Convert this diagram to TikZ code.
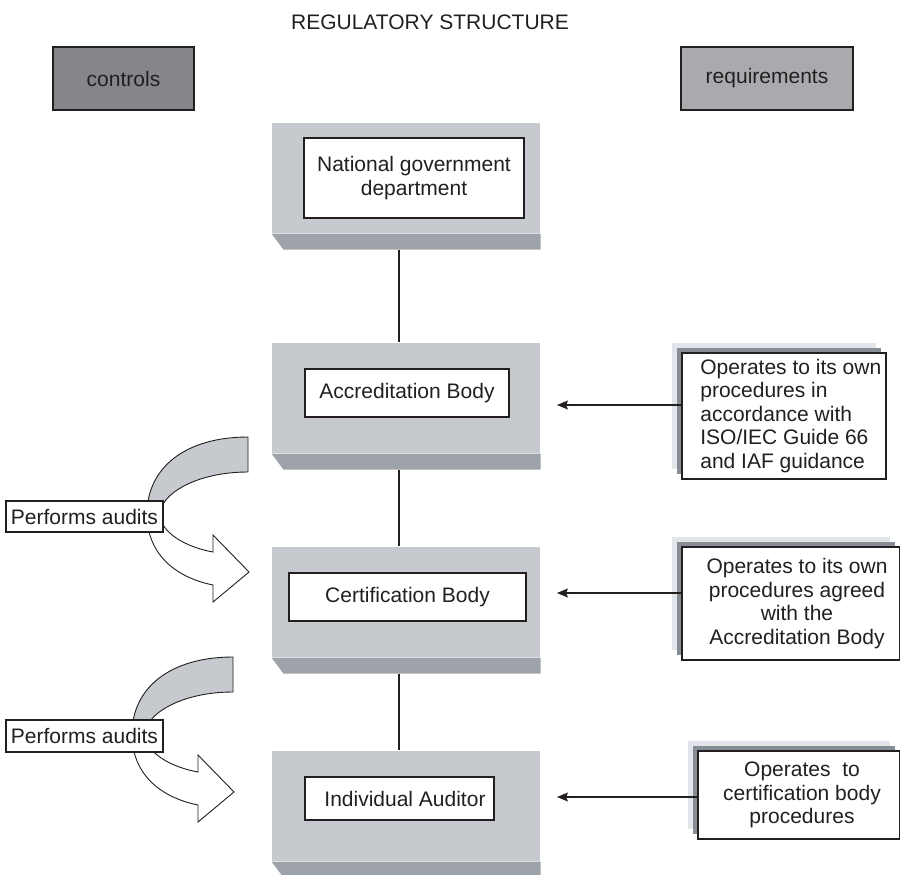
\documentclass[tikz,border=0pt]{standalone}
\usepackage{fontspec}
\setmainfont{Liberation Sans}
\usetikzlibrary{arrows.meta,shadows,calc}

\definecolor{facegray}{HTML}{C6C9CE}
\definecolor{bandgray}{HTML}{9EA3A9}
\definecolor{ctrlgray}{HTML}{858689}
\definecolor{reqgray}{HTML}{A9AAAE}
\definecolor{shlight}{HTML}{E1E4E8}
\definecolor{shdark}{HTML}{878D94}
\definecolor{ink}{HTML}{231F20}

\begin{document}
\begin{tikzpicture}[x=1pt,y=-1pt,
  font=\fontsize{21}{23.5}\selectfont, text=ink,
  line width=1.1pt,
  face/.style={fill=facegray, draw=none, inner sep=0pt, minimum width=268pt, minimum height=110pt},
  innerbox/.style={draw=ink, fill=white, inner sep=0pt, align=center},
  header/.style={draw=ink, inner sep=0pt, minimum height=63pt},
  reqbox/.style={draw=ink, fill=white, inner sep=0pt,
    copy shadow={shadow xshift=-10pt, shadow yshift=10pt, fill=shlight, draw=none},
    copy shadow={shadow xshift=-5pt, shadow yshift=5pt, fill=shdark, draw=none}},
  auditbox/.style={draw=ink, fill=white, inner sep=0pt, minimum width=157pt},
  conn/.style={draw=ink, line width=1.1pt},
  feed/.style={conn, -{Stealth[length=11pt, width=9pt, inset=2pt]}},
  tailshape/.style={fill=facegray, draw=ink, line width=0.9pt},
  headshape/.style={fill=white, draw=ink, line width=0.9pt}
]
\useasboundingbox (0,0) rectangle (900,875);

% title and column headers
\node (title) at (430,22) {REGULATORY STRUCTURE};
\node (controls) [header, fill=ctrlgray, minimum width=141pt] at (123.5,78.5) {controls};
\node (requirements) [header, fill=reqgray, minimum width=172pt] at (767,78.5) {requirements};

% bevelled blocks of the hierarchy
\node (b1) [face] at (406,178) {};
\node (b2) [face] at (406,398) {};
\node (b3) [face] at (406,602) {};
\node (b4) [face] at (406,806) {};
\foreach \b in {b1,b2,b3,b4} {
  \fill[bandgray] (\b.south west) -- (\b.south east) -- ([yshift=-16pt]\b.south east)
    -- ([xshift=12pt,yshift=-16pt]\b.south west) -- cycle;
  \coordinate (\b foot) at ([yshift=-16pt]\b.south);
}

% labels on the blocks
\node (ngd) [innerbox, minimum width=220pt, minimum height=80pt] at (414,178)
  {National government\\department};
\node (ab) [innerbox, minimum width=204pt, minimum height=48pt] at (407,393) {Accreditation Body};
\node (cb) [innerbox, minimum width=237pt, minimum height=48pt] at (407.5,597) {Certification Body};
\node (ia) [innerbox, minimum width=189pt, minimum height=43pt] at (399.5,798.5)
  {\hspace*{11pt}Individual Auditor};

% vertical links between the blocks
\coordinate (lx) at (399,0);
\draw[conn] (b1foot -| lx) -- (b2.north -| lx);
\draw[conn] (b2foot -| lx) -- (b3.north -| lx);
\draw[conn] (b3foot -| lx) -- (b4.north -| lx);

% requirement boxes
\node (ra) [reqbox, minimum width=204pt, minimum height=126pt] at (784,416) {};
\node [anchor=west, align=left] at ([xshift=15pt]ra.west)
  {Operates to its own\\procedures in\\accordance with\\ISO/IEC Guide 66\\and IAF guidance};
\node (rb) [reqbox, minimum width=218pt, minimum height=113pt] at (791,603.5) {};
\node [align=center] at (797,603.5)
  {Operates to its own\\procedures agreed\\with the\\Accreditation Body};
\node (rc) [reqbox, minimum width=202pt, minimum height=88pt] at (799,795) {};
\node [align=center] at (802,795)
  {Operates\ \ to\\certification body\\procedures};

% arrows from requirements to blocks
\coordinate (ta) at (557,405);
\coordinate (tb) at (557,593);
\coordinate (tc) at (557,797);
\draw[feed] (ra.west |- ta) -- (ta);
\draw[feed] (rb.west |- tb) -- (tb);
\draw[feed] (rc.west |- tc) -- (tc);

% curved "performs audits" arrows
\foreach \sx/\sy in {0/0, -15/220} {
  \begin{scope}[shift={(\sx,\sy)}]
    \draw[tailshape] (248,437) .. controls (185,437) and (147,468) .. (147,514)
      -- (160,514) .. controls (160,495) and (195,472) .. (248,472) -- cycle;
    \draw[headshape] (147,514) .. controls (147,556) and (178,578) .. (213,585)
      -- (213,602) -- (249,572) -- (213,535) -- (213,552)
      .. controls (185,547) and (160,532) .. (160,514) -- cycle;
  \end{scope}
}
\node (pa1) [auditbox, minimum height=31pt] at (84.5,516.5) {Performs audits};
\node (pa2) [auditbox, minimum height=32pt] at (84.5,736) {Performs audits};
\end{tikzpicture}
\end{document}
